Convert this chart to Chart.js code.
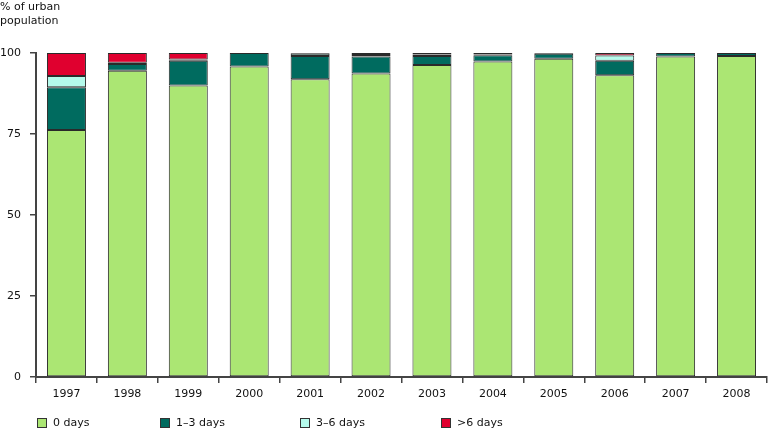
<!DOCTYPE html>
<html>
<head>
<meta charset="utf-8">
<script src="https://cdn.jsdelivr.net/npm/chart.js@4/dist/chart.umd.min.js"></script>
<style>
  html, body { margin: 0; padding: 0; background: #fff; }
  #wrap { position: relative; width: 768px; height: 430px; font-family: 'DejaVu Sans', Verdana, sans-serif; color: #111; }
  #title { position: absolute; left: 0; top: 0; font-size: 11px; line-height: 14px; }
  .leg { position: absolute; top: 416px; font-size: 11px; line-height: 14px; display: flex; align-items: center; }
  .leg span.box { display: inline-block; width: 10px; height: 10px; border: 1px solid #333; margin-right: 6px; box-sizing: border-box; }
</style>
</head>
<body>
<div id="wrap">
  <canvas id="chart" width="768" height="430"></canvas>
  <div id="title">% of urban<br>population</div>
  <div id="legend"></div>
</div>
<script>
const years = ['1997', '1998', '1999', '2000', '2001', '2002', '2003', '2004', '2005', '2006', '2007', '2008']
const zeroDays  = [76.2, 94.5, 90.0, 95.8, 91.9, 93.7, 96.3, 97.4, 98.2, 93.1, 98.9, 99.1]
const oneThree  = [13.2, 2.1, 7.6, 4.2, 7.2, 5.2, 2.8, 1.9, 1.6, 4.5, 1.1, 0.9]
const threeSix  = [3.5, 0.4, 0.4, 0, 0.7, 0.5, 0.4, 0.2, 0.2, 1.6, 0, 0]
const overSix   = [7.1, 3.0, 2.0, 0, 0.2, 0.6, 0.5, 0.5, 0, 0.8, 0, 0]
const yTicks = [0, 25, 50, 75, 100]

const SERIES = [
  { label: '0 days', data: zeroDays, color: '#abe673', left: 37 },
  { label: '1–3 days', data: oneThree, color: '#006b5f', left: 160 },
  { label: '3–6 days', data: threeSix, color: '#b5fbec', left: 300 },
  { label: '>6 days', data: overSix, color: '#e0002f', left: 441 },
]

const FONT = { size: 11, family: "'DejaVu Sans', Verdana, sans-serif" }

// HTML legend, positioned like the original
const legend = document.getElementById('legend')
legend.innerHTML = SERIES.map(s => `
  <div class="leg" style="left:${s.left}px"><span class="box" style="background:${s.color}"></span>${s.label}</div>
`).join('')

new Chart(document.getElementById('chart'), {
  type: 'bar',
  data: {
    labels: years,
    datasets: SERIES.map(s => ({
      label: s.label,
      data: s.data,
      backgroundColor: s.color,
      borderColor: '#2a2a2a',
      borderWidth: 1,
      borderSkipped: false,
      categoryPercentage: 1,
      barPercentage: 0.64,
    }))
  },
  options: {
    responsive: false,
    animation: false,
    layout: { padding: { top: 53, right: 1, bottom: 23, left: 0 } },
    plugins: { legend: { display: false }, tooltip: { enabled: false } },
    scales: {
      x: {
        stacked: true,
        grid: { offset: true, drawOnChartArea: false, tickLength: 6, color: '#444', lineWidth: 1.5 },
        border: { color: '#444', width: 2 },
        ticks: { color: '#111', font: FONT, padding: 5, maxRotation: 0 },
        afterFit: scale => { scale.height = 30 }
      },
      y: {
        stacked: true,
        min: 0,
        max: 100,
        afterBuildTicks: scale => { scale.ticks = yTicks.map(v => ({ value: v })) },
        grid: { drawOnChartArea: false, tickLength: 6, color: '#444', lineWidth: 1.5 },
        border: { color: '#444', width: 2 },
        ticks: { color: '#111', font: FONT, padding: 9 },
        afterFit: scale => { scale.width = 36 }
      }
    }
  }
})
</script>
</body>
</html>
